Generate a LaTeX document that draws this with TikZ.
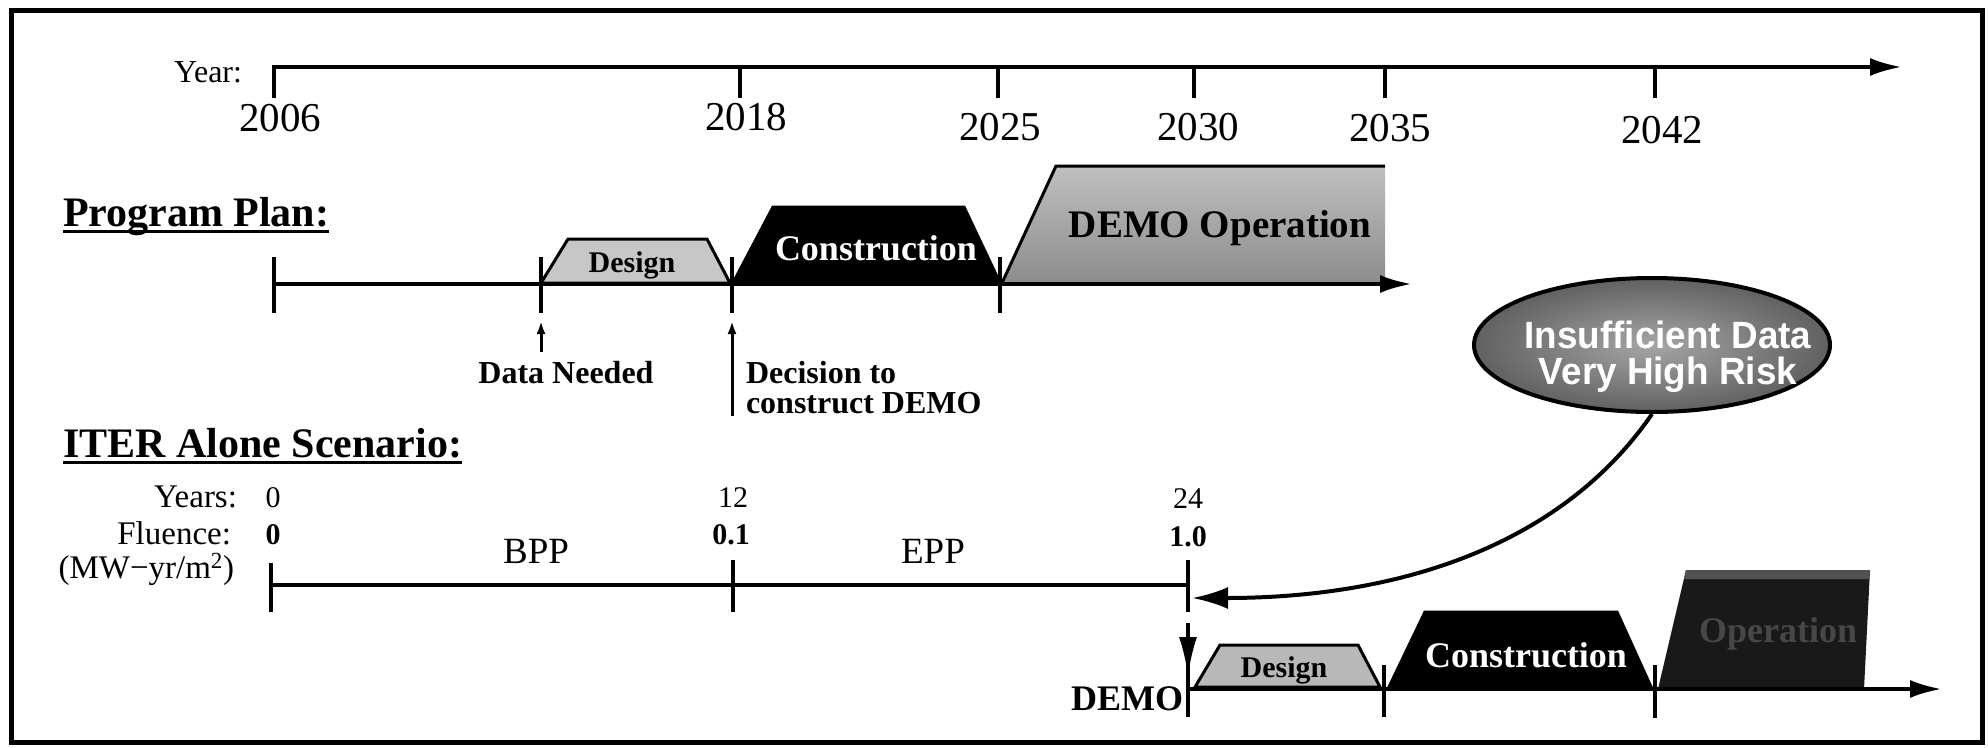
\documentclass[tikz,border=0pt]{standalone}
\usepackage{fontspec}
\setmainfont{Liberation Serif}
\newfontfamily\hvfont{Liberation Sans}
\usetikzlibrary{arrows.meta,shapes.geometric}
\newcommand{\fsz}[1]{\fontsize{#1}{#1}\selectfont}
\newcommand{\myul}[1]{\leavevmode\setbox0=\hbox{#1}\rlap{\rule[-7pt]{\wd0}{3pt}}\box0}
\tikzset{
  axisline/.style={line width=4pt},
  tickline/.style={line width=4.5pt},
  bigtip/.style={-{Latex[length=32pt,width=18pt]}},
  smalltip/.style={-{Latex[length=13pt,width=9pt]}},
  txt/.style={inner sep=0pt, outer sep=0pt, anchor=base},
  yearlbl/.style={txt, font=\fsz{41}},
  phase/.style={line width=3pt, line join=miter},
  lbl/.style={txt, anchor=base east, font=\fsz{33}},
  num/.style={txt, font=\fsz{30}},
  bnum/.style={txt, font=\bfseries\fsz{30}}
}
\begin{document}
\begin{tikzpicture}[x=1pt,y=-1pt]
\useasboundingbox (0,0) rectangle (1988,747);
% frame
\draw[line width=5pt] (11,10) rectangle (1982,742);

% ---------- Year axis ----------
\coordinate (ya0) at (274,67);
\coordinate (ya1) at (1902,67);
\draw[axisline,bigtip] (ya0) -- (ya1);
\foreach \x in {274,740,998,1194,1385,1655} \draw[tickline] (\x,65) -- (\x,98);
\node[txt, anchor=base east, font=\fsz{32}] (yearlab) at (242,82) {Year:};
\node[yearlbl] (y2006) at (280,131) {2006};
\node[yearlbl] (y2018) at (746,130) {2018};
\node[yearlbl] (y2025) at (1000,140) {2025};
\node[yearlbl] (y2030) at (1198,140) {2030};
\node[yearlbl] (y2035) at (1390,141) {2035};
\node[yearlbl] (y2042) at (1662,143) {2042};

% ---------- Program Plan ----------
\node[txt, anchor=base west, font=\bfseries\fsz{42}] (pplan) at (63,226) {\myul{Program Plan:}};

\draw[phase, fill=black!22] (541,283) -- (568,239) -- (707,239) -- (730,283) -- cycle;
\node[txt, font=\bfseries\fsz{30}] (ppdesign) at (632,272) {Design};
\filldraw[phase] (733,283) -- (773,207) -- (964,207) -- (1000,283) -- cycle;
\node[txt, text=white, font=\bfseries\fsz{36}] (ppcons) at (876,260) {Construction};
\shade[top color=black!25, bottom color=black!45] (1002,283) -- (1056,166) -- (1385,166) -- (1385,283) -- cycle;
\draw[phase] (1002,283) -- (1056,166) -- (1385,166);
\node[txt, font=\bfseries\fsz{39}] (ppop) at (1220,237) {DEMO Operation};

\coordinate (pp0) at (274,284);
\coordinate (pp1) at (1412,284);
\draw[axisline,bigtip] (pp0) -- (pp1);
\foreach \x in {274,541,732,1000} \draw[tickline] (\x,257) -- (\x,313);

\coordinate (dnbase) at (541,352);
\coordinate (dntip) at (541,321);
\draw[line width=3pt, smalltip] (dnbase) -- (dntip);
\node[txt, font=\bfseries\fsz{32}] (dn) at (566,383) {Data Needed};

\coordinate (decbase) at (732,416);
\coordinate (dectip) at (732,321);
\draw[line width=3pt, smalltip] (decbase) -- (dectip);
\node[txt, anchor=base west, font=\bfseries\fsz{32}] (dec1) at (746,383) {Decision to};
\node[txt, anchor=base west, font=\bfseries\fsz{32}] (dec2) at (746,413) {construct DEMO};

% ---------- ITER Alone Scenario ----------
\node[txt, anchor=base west, font=\bfseries\fsz{42}] (iter) at (63,457) {\myul{ITER Alone Scenario:}};
\node[lbl] (yrs) at (237,507) {Years:};
\node[lbl] (flu) at (231,544) {Fluence:};
\node[lbl] (mw) at (234,578) {(MW−yr/m\textsuperscript{2})};
\node[num] (n0) at (273,507) {0};
\node[bnum] (f0) at (273,544) {0};
\node[num] (n12) at (733,507) {12};
\node[bnum] (f01) at (731,544) {0.1};
\node[num] (n24) at (1188,508) {24};
\node[bnum] (f10) at (1188,546) {1.0};
\node[txt, font=\fsz{37}] (bpp) at (536,563) {BPP};
\node[txt, font=\fsz{37}] (epp) at (933,563) {EPP};

\coordinate (it0) at (271,585);
\coordinate (it1) at (1188,585);
\draw[axisline] (it0) -- (it1);
\draw[tickline] (271,563) -- (271,612);
\draw[tickline] (733,560) -- (733,612);
\draw[tickline] (1188,560) -- (1188,612);

% risk ellipse
\node[ellipse, draw, line width=4pt, minimum width=356pt, minimum height=134pt, inner sep=0pt,
      inner color=black!35, outer color=black!62] (risk) at (1652,345) {};
\node[inner sep=0pt, align=center, text=white, font=\hvfont\bfseries\fontsize{38}{36}\selectfont]
  (risktxt) at (1668,357) {\scalebox{0.97}[1]{Insufficient Data}\\\scalebox{0.97}[1]{Very High Risk}};
\coordinate (itarr) at (1192,598);
\draw[line width=4pt, -{Latex[length=36pt,width=22pt]}] (risk.south) .. controls (1562,545) and (1400,598) .. (itarr);

% ---------- DEMO timeline ----------
\coordinate (dd0) at (1188,623);
\coordinate (dd1) at (1188,677);
\draw[line width=4pt, -{Latex[length=40pt,width=18pt]}] (dd0) -- (dd1);
\node[txt, anchor=base east, font=\bfseries\fsz{36}] (demo) at (1183,710) {DEMO};

\draw[phase, fill=black!28] (1195,687) -- (1220,645) -- (1358,645) -- (1380,687) -- cycle;
\node[txt, font=\bfseries\fsz{30}] (ddesign) at (1284,677) {Design};
\filldraw[phase] (1388,689) -- (1425,612) -- (1617,612) -- (1652,689) -- cycle;
\node[txt, text=white, font=\bfseries\fsz{36}] (dcons) at (1526,667) {Construction};
\fill[black!90] (1658,689) -- (1686,570) -- (1870,570) -- (1864,689) -- cycle;
\fill[black!68] (1686,570) -- (1870,570) -- (1869,579) -- (1684,579) -- cycle;
\node[txt, text=black!72, font=\bfseries\fsz{36}] (dop) at (1778,642) {Operation};

\coordinate (de0) at (1188,689);
\coordinate (de1) at (1942,689);
\draw[axisline,bigtip] (de0) -- (de1);
\draw[tickline] (1188,660) -- (1188,717);
\draw[tickline] (1384,665) -- (1384,717);
\draw[tickline] (1655,665) -- (1655,718);
\end{tikzpicture}
\end{document}
